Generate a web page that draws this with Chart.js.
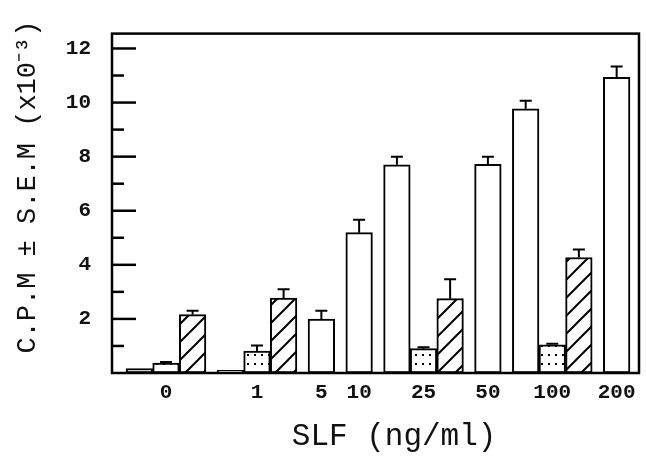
<!DOCTYPE html>
<html>
<head>
<meta charset="utf-8">
<script src="https://cdn.jsdelivr.net/npm/chart.js@4.4.0/dist/chart.umd.min.js"></script>
<style>
  body { margin: 0; background: #fff; }
  #wrap { width: 646px; height: 456px; }
</style>
</head>
<body>
<div id="wrap">
  <canvas id="myChart" width="646" height="456"></canvas>
</div>
<script>
  // SLF dose (ng/ml) and the three bar series, C.P.M x 10^-3
  const doses = ['0', '1', '5', '10', '25', '50', '100', '200'];
  const openBars = [0.16, 0.10, 1.99, 5.19, 7.70, 7.72, 9.77, 10.93];
  const openErr = [0, 0, 0.31, 0.48, 0.30, 0.28, 0.30, 0.40];
  const dottedBars = [0.37, 0.81, null, null, 0.90, null, 1.04, null];
  const dottedErr = [0.04, 0.21, null, null, 0.05, null, 0.04, null];
  const hatchedBars = [2.16, 2.77, null, null, 2.75, null, 4.27, null];
  const hatchedErr = [0.14, 0.33, null, null, 0.72, null, 0.30, null];
  const yTicks = [2, 4, 6, 8, 10, 12];

  const GAP = 0.42; // space between dose groups, in bar widths
  const series = [
    { vals: openBars, errs: openErr, pts: [] },
    { vals: dottedBars, errs: dottedErr, pts: [] },
    { vals: hatchedBars, errs: hatchedErr, pts: [] }
  ];
  const centers = [];
  let cursor = 0;
  doses.forEach((d, i) => {
    const start = cursor;
    series.forEach(s => {
      if (s.vals[i] === null) return;
      s.pts.push({ x: cursor + 0.5, y: s.vals[i], err: s.errs[i] });
      cursor += 1;
    });
    centers.push((start + cursor) / 2);
    cursor += GAP;
  });
  cursor -= GAP;

  function makePattern(kind) {
    const c = document.createElement('canvas');
    const p = c.getContext('2d');
    if (kind === 'dots') {
      c.width = 7; c.height = 9;
      p.fillStyle = '#fff'; p.fillRect(0, 0, 7, 9);
      p.fillStyle = '#000'; p.fillRect(2, 3, 2, 2);
    } else {
      const n = 18;
      c.width = n; c.height = n;
      p.fillStyle = '#fff'; p.fillRect(0, 0, n, n);
      p.strokeStyle = '#000'; p.lineWidth = 2;
      p.beginPath();
      p.moveTo(0, n); p.lineTo(n, 0);
      p.moveTo(-2, 2); p.lineTo(2, -2);
      p.moveTo(n - 2, n + 2); p.lineTo(n + 2, n - 2);
      p.stroke();
    }
    return p.createPattern(c, 'repeat');
  }

  const frame = {
    id: 'frame',
    afterDatasetsDraw(chart) {
      const ctx = chart.ctx;
      const a = chart.chartArea;
      const y = chart.scales.y;
      ctx.save();
      ctx.strokeStyle = '#000';
      // error bars
      ctx.lineWidth = 2;
      chart.data.datasets.forEach((ds, di) => {
        chart.getDatasetMeta(di).data.forEach((bar, i) => {
          const pt = ds.data[i];
          if (!pt.err) return;
          const top = y.getPixelForValue(pt.y + pt.err);
          ctx.beginPath();
          ctx.moveTo(bar.x, bar.y);
          ctx.lineTo(bar.x, top);
          ctx.moveTo(bar.x - 6, top);
          ctx.lineTo(bar.x + 6, top);
          ctx.stroke();
        });
      });
      // inward ticks
      ctx.lineWidth = 2.5;
      for (let v = 1; v <= 12; v++) {
        const py = y.getPixelForValue(v);
        ctx.beginPath();
        ctx.moveTo(a.left, py);
        ctx.lineTo(a.left + (yTicks.includes(v) ? 24 : 12), py);
        ctx.stroke();
      }
      ctx.strokeRect(a.left, a.top, a.right - a.left, a.bottom - a.top);
      ctx.restore();
    }
  };

  const fills = ['#fff', makePattern('dots'), makePattern('hatch')];

  var ctx = document.getElementById('myChart');
  var myChart = new Chart(ctx, {
    type: 'bar',
    data: {
      datasets: series.map((s, i) => ({
        data: s.pts,
        backgroundColor: fills[i],
        borderColor: '#000',
        borderWidth: 2,
        borderSkipped: false,
        grouped: false,
        categoryPercentage: 1,
        barPercentage: 1
      }))
    },
    options: {
      responsive: false,
      animation: false,
      devicePixelRatio: 1,
      layout: { padding: { left: 12, right: 7, top: 7, bottom: 0 } },
      plugins: { legend: { display: false }, tooltip: { enabled: false } },
      scales: {
        x: {
          type: 'linear',
          offset: false,
          min: -0.53,
          max: cursor + 0.34,
          grid: { display: false, drawTicks: false },
          border: { display: false },
          afterBuildTicks: axis => { axis.ticks = centers.map(v => ({ value: v })); },
          afterFit: axis => { axis.height = 83; },
          ticks: {
            autoSkip: false,
            maxRotation: 0,
            minRotation: 0,
            padding: 7,
            color: '#111',
            font: { family: 'Liberation Mono', size: 21, weight: 'bold' },
            callback: (v, i) => doses[i]
          },
          title: {
            display: true,
            text: '  SLF (ng/ml)',
            color: '#111',
            padding: { top: 0, bottom: 1 },
            font: { family: 'Liberation Mono', size: 31 }
          }
        },
        y: {
          min: 0,
          max: 12.55,
          grid: { display: false, drawTicks: false },
          border: { display: false },
          afterBuildTicks: axis => { axis.ticks = yTicks.map(v => ({ value: v })); },
          afterFit: axis => { axis.width = 100; },
          ticks: {
            autoSkip: false,
            padding: 21,
            color: '#111',
            font: { family: 'Liberation Mono', size: 21, weight: 'bold' }
          },
          title: {
            display: true,
            text: '  C.P.M \u00b1 S.E.M (x10\u207b\u00b3)',
            color: '#111',
            padding: { top: 0, bottom: 0 },
            font: { family: 'Liberation Mono', size: 27 }
          }
        }
      }
    },
    plugins: [frame]
  });
</script>
</body>
</html>
